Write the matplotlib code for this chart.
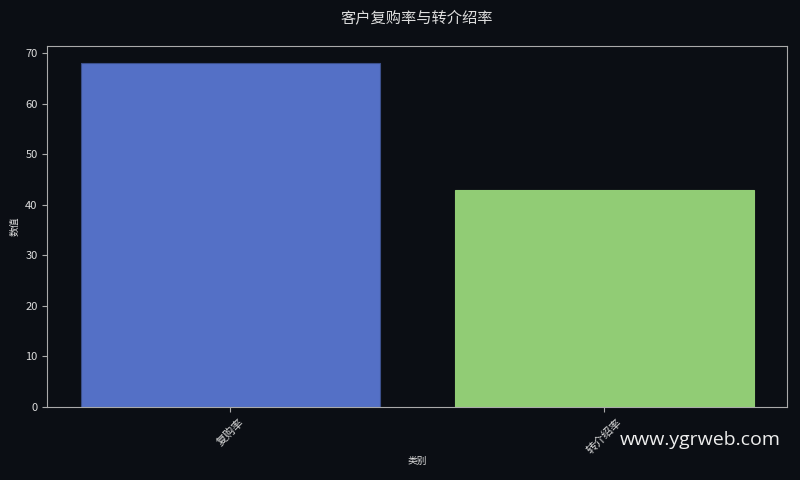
import matplotlib
matplotlib.use('Agg')
import matplotlib.pyplot as plt

plt.rcParams['font.family'] = ['Noto Sans CJK SC', 'DejaVu Sans']

categories = ['复购率', '转介绍率']
values = [68, 43]
bar_colors = ['#5470c6', '#91cc75']

bg = '#0b0e14'
fg = '#dddddd'

fig, ax = plt.subplots(figsize=(8, 4.8), dpi=100)
fig.patch.set_facecolor(bg)
ax.set_facecolor(bg)

ax.bar(categories, values, color=bar_colors, width=0.8, edgecolor='#3b4f8a', linewidth=0.8)
ax.patches[1].set_edgecolor('#91cc75')

ax.set_title('客户复购率与转介绍率', color=fg, fontsize=11, pad=17)
ax.set_xlabel('类别', color=fg, fontsize=7, labelpad=0)
ax.set_ylabel('数值', color=fg, fontsize=7)

for s in ax.spines.values():
    s.set_color('#aaaaaa')
ax.tick_params(colors='#aaaaaa', labelcolor=fg, labelsize=8)
plt.setp(ax.get_xticklabels(), rotation=45, fontsize=8)

fig.subplots_adjust(left=0.059, right=0.984, top=0.904, bottom=0.152)

fig.text(0.976, 0.065, 'www.ygrweb.com', color='#eeeeee', fontsize=14,
         ha='right', va='bottom', family=['Open Sans', 'DejaVu Sans'])

fig.savefig('out.png', facecolor=bg)
